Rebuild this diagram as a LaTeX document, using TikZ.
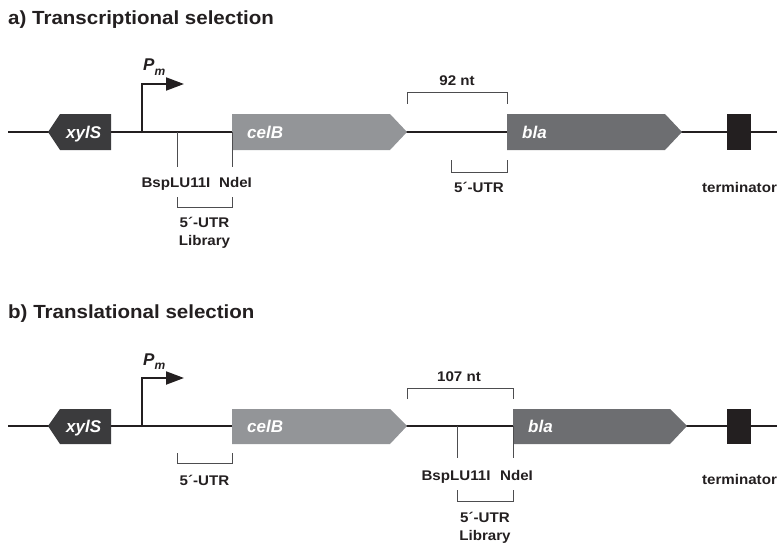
\documentclass[tikz,border=0pt]{standalone}
\usepackage{fontspec}
\setmainfont{Liberation Sans}
\newfontfamily\lblfont[FakeStretch=1.08]{Liberation Sans}
\usetikzlibrary{arrows.meta}
\definecolor{dnablack}{HTML}{231F20}
\definecolor{xylcol}{HTML}{3B3B3D}
\definecolor{celcol}{HTML}{939598}
\definecolor{blacol}{HTML}{6D6E71}
\definecolor{brackcol}{HTML}{4D4D4F}
\begin{document}
\begin{tikzpicture}[x=1pt,y=-1pt,
  dna/.style={line width=2pt,draw=dnablack},
  prom/.style={line width=2pt,draw=dnablack,-{Triangle[length=18pt,width=13pt]}},
  site/.style={line width=0.8pt,draw=brackcol},
  brack/.style={line width=0.8pt,draw=brackcol},
  genetext/.style={anchor=base west,text=white,font=\fontsize{17}{17}\selectfont\bfseries\itshape,inner sep=0pt},
  lbl/.style={anchor=base,font=\lblfont\fontsize{14}{14}\selectfont\bfseries,text=dnablack,inner sep=0pt},
  ttl/.style={anchor=base west,font=\lblfont\fontsize{19}{19}\selectfont\bfseries,text=dnablack,inner sep=0pt},
  pm/.style={anchor=base west,font=\fontsize{17}{17}\selectfont\bfseries\itshape,text=dnablack,inner sep=0pt}]
\useasboundingbox (0,0) rectangle (777,543);

% ================= panel a =================
\node[ttl] (ta) at (8,25) {a) Transcriptional selection};
\coordinate (la0) at (8,132);
\coordinate (la1) at (777,132);
\draw[dna] (la0) -- (la1);
% xylS
\fill[xylcol] (48,132) -- (60,114) -- (111,114) -- (111,150) -- (60,150) -- cycle;
\node[genetext] (xa) at (66,138) {xylS};
% promoter
\coordinate (pa0) at (142,133);
\coordinate (pa1) at (142,84);
\coordinate (pa2) at (184,84);
\draw[prom] (pa0) -- (pa1) -- (pa2);
\node[pm] (pma) at (143,71) {P\raisebox{-0.45ex}{\fontsize{12}{12}\selectfont m}};
% celB
\fill[celcol] (232,114) -- (390,114) -- (407,132) -- (390,150) -- (232,150) -- cycle;
\node[genetext] (ca) at (247,138.5) {celB};
% bla
\fill[blacol] (507,114) -- (665,114) -- (682,132) -- (665,150) -- (507,150) -- cycle;
\node[genetext] (ba) at (522,138.5) {bla};
% terminator
\fill[dnablack] (727,114) rectangle (751,150);
\node[lbl] (tma) at (739.5,192) {terminator};
% sites
\coordinate (sa1) at (177,132);
\coordinate (sa1b) at (177,167);
\coordinate (sa2) at (232,132);
\coordinate (sa2b) at (232,167);
\draw[site] (sa1) -- (sa1b);
\draw[site] (sa2) -- (sa2b);
\node[lbl] (bspa) at (176,187) {BspLU11I};
\node[lbl] (ndea) at (235.5,187) {NdeI};
% library bracket
\draw[brack] (177,197) -- (177,207) -- (232,207) -- (232,197);
\node[lbl] (ua1) at (204.5,227) {5´-UTR};
\node[lbl] (liba) at (204.5,245) {Library};
% 92 nt bracket
\draw[brack] (407,104) -- (407,92) -- (507,92) -- (507,104);
\node[lbl] (nta) at (457,85) {92 nt};
% 5'-UTR bracket
\draw[brack] (451,160) -- (451,172) -- (507,172) -- (507,160);
\node[lbl] (ua2) at (479,192) {5´-UTR};

% ================= panel b =================
\node[ttl] (tb) at (8,318) {b) Translational selection};
\coordinate (lb0) at (8,426);
\coordinate (lb1) at (777,426);
\draw[dna] (lb0) -- (lb1);
% xylS
\fill[xylcol] (48,426) -- (60,409) -- (111,409) -- (111,444) -- (60,444) -- cycle;
\node[genetext] (xb) at (66,432) {xylS};
% promoter
\coordinate (pb0) at (142,427);
\coordinate (pb1) at (142,378);
\coordinate (pb2) at (184,378);
\draw[prom] (pb0) -- (pb1) -- (pb2);
\node[pm] (pmb) at (143,365) {P\raisebox{-0.45ex}{\fontsize{12}{12}\selectfont m}};
% celB
\fill[celcol] (232,409) -- (390,409) -- (407,426) -- (390,444) -- (232,444) -- cycle;
\node[genetext] (cb) at (247,432.5) {celB};
% bla
\fill[blacol] (513,409) -- (670,409) -- (687,426) -- (670,444) -- (513,444) -- cycle;
\node[genetext] (bb) at (528,432.5) {bla};
% terminator
\fill[dnablack] (727,409) rectangle (751,444);
\node[lbl] (tmb) at (739.5,484) {terminator};
% 5'-UTR bracket left
\draw[brack] (177,453) -- (177,463) -- (232,463) -- (232,453);
\node[lbl] (ub1) at (204.5,485) {5´-UTR};
% 107 nt bracket
\draw[brack] (407,399) -- (407,388) -- (513,388) -- (513,399);
\node[lbl] (ntb) at (459,381) {107 nt};
% sites
\coordinate (sb1) at (457,426);
\coordinate (sb1b) at (457,458);
\coordinate (sb2) at (513,426);
\coordinate (sb2b) at (513,458);
\draw[site] (sb1) -- (sb1b);
\draw[site] (sb2) -- (sb2b);
\node[lbl] (bspb) at (456,480) {BspLU11I};
\node[lbl] (ndeb) at (516.5,480) {NdeI};
% library bracket
\draw[brack] (457,490) -- (457,501) -- (513,501) -- (513,490);
\node[lbl] (ub2) at (485,522) {5´-UTR};
\node[lbl] (libb) at (485,540) {Library};
\end{tikzpicture}
\end{document}
